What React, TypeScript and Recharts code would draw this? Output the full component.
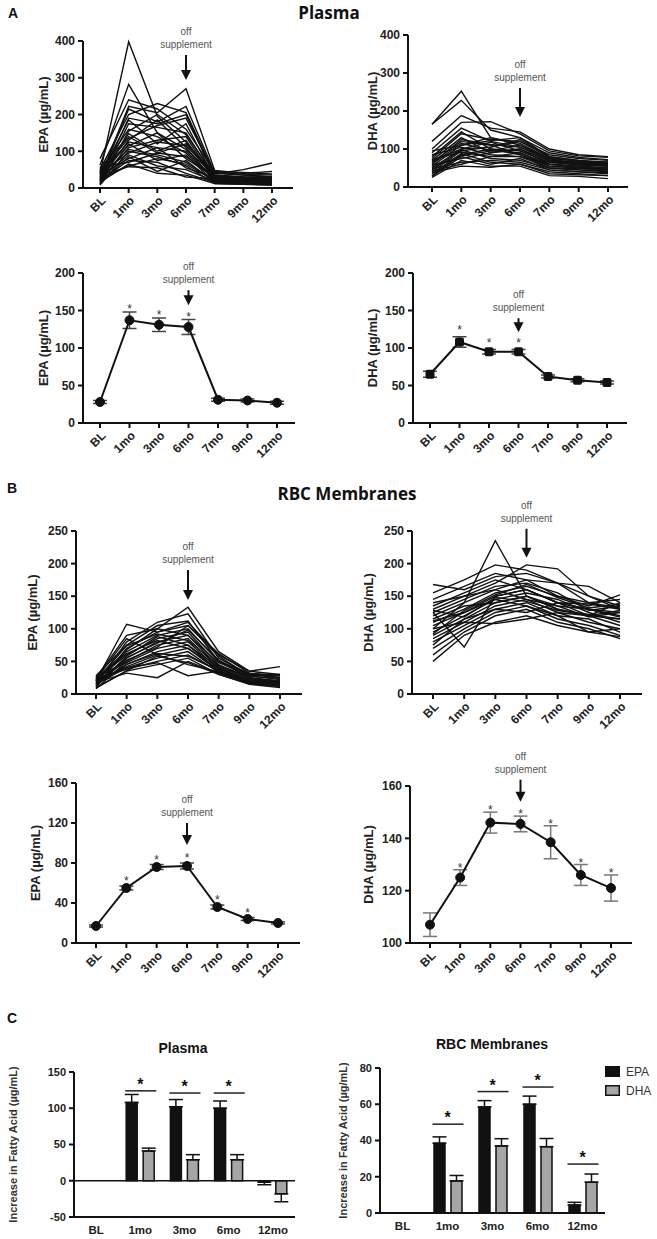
import React from "react";
import {
  LineChart,
  Line,
  ComposedChart,
  Bar,
  XAxis,
  YAxis,
  ErrorBar,
  ReferenceDot,
  ReferenceLine,
  Legend,
} from "recharts";

const TIMEPOINTS = ["BL", "1mo", "3mo", "6mo", "7mo", "9mo", "12mo"];
const CHANGE_POINTS = ["BL", "1mo", "3mo", "6mo", "12mo"];
const LEGEND_ORDER = ["EPA", "DHA"];

// individual subjects, BL..12mo (µg/mL)
const plasmaEpaSubjects = [
  [40, 398, 195, 125, 30, 25, 22],
  [62, 282, 150, 105, 35, 28, 25],
  [80, 240, 215, 160, 45, 42, 38],
  [30, 222, 205, 270, 48, 40, 45],
  [25, 215, 180, 222, 42, 35, 30],
  [50, 200, 230, 205, 38, 50, 68],
  [20, 190, 175, 200, 30, 28, 26],
  [35, 185, 120, 175, 25, 20, 18],
  [15, 175, 165, 150, 28, 25, 20],
  [45, 160, 140, 95, 22, 18, 15],
  [10, 155, 200, 145, 35, 30, 28],
  [28, 148, 100, 130, 20, 15, 12],
  [55, 140, 95, 120, 40, 35, 30],
  [22, 130, 185, 110, 18, 15, 12],
  [38, 125, 110, 100, 25, 22, 20],
  [12, 120, 75, 90, 15, 12, 10],
  [48, 115, 150, 80, 30, 25, 22],
  [18, 110, 130, 140, 22, 20, 18],
  [32, 105, 90, 70, 20, 18, 15],
  [8, 100, 85, 60, 12, 10, 8],
  [42, 95, 125, 115, 35, 30, 28],
  [26, 90, 60, 50, 18, 15, 12],
  [14, 85, 45, 75, 15, 12, 10],
  [36, 80, 110, 55, 28, 22, 18],
  [20, 75, 70, 40, 15, 12, 12],
  [58, 70, 95, 85, 32, 30, 25],
  [16, 65, 40, 35, 12, 10, 8],
  [24, 60, 80, 65, 20, 15, 15],
  [34, 58, 55, 30, 25, 20, 18],
  [44, 135, 170, 190, 40, 38, 35],
];

const plasmaDhaSubjects = [
  [165, 252, 130, 110, 75, 60, 55],
  [165, 228, 150, 130, 80, 70, 65],
  [120, 188, 155, 145, 100, 85, 80],
  [100, 170, 172, 140, 95, 82, 78],
  [90, 155, 120, 105, 70, 65, 60],
  [80, 145, 100, 95, 65, 60, 58],
  [75, 140, 125, 120, 85, 75, 70],
  [70, 130, 90, 100, 60, 55, 50],
  [65, 120, 110, 85, 55, 50, 45],
  [60, 115, 95, 110, 70, 62, 60],
  [55, 110, 130, 115, 75, 68, 66],
  [85, 105, 85, 80, 60, 55, 50],
  [50, 100, 118, 95, 65, 58, 55],
  [45, 98, 75, 70, 50, 45, 40],
  [40, 95, 105, 125, 80, 70, 62],
  [72, 92, 80, 90, 55, 50, 48],
  [35, 88, 65, 60, 40, 35, 30],
  [30, 85, 100, 85, 50, 45, 42],
  [28, 80, 60, 75, 45, 40, 35],
  [25, 70, 55, 55, 30, 28, 22],
  [58, 75, 90, 100, 68, 60, 55],
  [48, 65, 70, 65, 45, 40, 38],
  [38, 55, 52, 60, 35, 32, 30],
  [95, 110, 122, 130, 90, 78, 72],
  [62, 125, 112, 105, 72, 62, 58],
  [52, 82, 95, 90, 60, 52, 48],
  [42, 60, 80, 80, 50, 48, 45],
  [68, 100, 105, 120, 78, 66, 62],
];

const rbcEpaSubjects = [
  [20, 107, 95, 110, 60, 35, 30],
  [25, 90, 100, 133, 65, 35, 42],
  [15, 80, 110, 123, 55, 30, 28],
  [28, 75, 105, 112, 50, 32, 25],
  [10, 70, 95, 105, 58, 28, 22],
  [18, 65, 90, 100, 50, 25, 20],
  [22, 60, 85, 95, 45, 25, 18],
  [12, 55, 80, 90, 42, 22, 20],
  [8, 50, 75, 85, 40, 20, 15],
  [26, 48, 70, 80, 38, 22, 18],
  [14, 45, 65, 75, 35, 18, 14],
  [20, 42, 60, 70, 35, 20, 16],
  [16, 40, 55, 65, 33, 17, 12],
  [24, 38, 50, 60, 35, 18, 15],
  [10, 35, 45, 55, 30, 15, 10],
  [18, 32, 25, 50, 32, 16, 12],
  [22, 40, 48, 28, 35, 20, 14],
  [12, 58, 88, 75, 40, 28, 30],
  [20, 68, 100, 90, 48, 30, 25],
  [16, 52, 72, 105, 62, 32, 28],
  [26, 62, 82, 70, 38, 22, 20],
  [14, 46, 62, 58, 36, 20, 18],
  [9, 36, 58, 48, 30, 16, 12],
  [21, 74, 92, 82, 44, 24, 20],
  [17, 56, 78, 98, 52, 27, 24],
  [23, 85, 60, 45, 34, 19, 16],
];

const rbcDhaSubjects = [
  [168, 160, 180, 185, 170, 150, 135],
  [155, 175, 198, 190, 170, 165, 140],
  [125, 72, 150, 160, 140, 130, 125],
  [100, 140, 235, 150, 130, 120, 115],
  [130, 150, 170, 198, 192, 150, 130],
  [120, 140, 160, 175, 170, 140, 145],
  [110, 130, 155, 165, 150, 135, 152],
  [105, 125, 150, 160, 140, 130, 120],
  [95, 120, 145, 155, 145, 125, 110],
  [90, 115, 140, 150, 130, 120, 105],
  [85, 110, 135, 145, 125, 110, 100],
  [80, 105, 130, 140, 120, 115, 95],
  [70, 100, 125, 135, 115, 105, 90],
  [60, 95, 120, 130, 110, 100, 85],
  [50, 90, 110, 120, 105, 95, 88],
  [115, 135, 140, 150, 135, 118, 125],
  [125, 145, 165, 170, 155, 128, 135],
  [140, 150, 160, 145, 135, 130, 118],
  [100, 110, 108, 115, 125, 120, 140],
  [112, 125, 145, 135, 120, 95, 100],
  [135, 155, 175, 160, 140, 138, 130],
  [75, 115, 130, 125, 140, 120, 128],
  [128, 118, 148, 142, 128, 122, 115],
  [92, 128, 152, 168, 148, 132, 138],
  [145, 165, 185, 175, 150, 140, 132],
];

// group means ± SEM, * = significant vs BL
const plasmaEpaMean = [28, 137, 131, 128, 31, 30, 27];
const plasmaEpaSem = [2, 11, 9, 10, 2, 2, 2];
const plasmaEpaSig = [false, true, true, true, false, false, false];

const plasmaDhaMean = [65, 108, 95, 95, 62, 57, 54];
const plasmaDhaSem = [4, 7, 3, 3, 2, 2, 2];
const plasmaDhaSig = [false, true, true, true, false, false, false];

const rbcEpaMean = [17, 55, 76, 77, 36, 24, 20];
const rbcEpaSem = [1, 2, 2.5, 3, 2, 1.5, 1];
const rbcEpaSig = [false, true, true, true, true, true, false];

const rbcDhaMean = [107, 125, 146, 145.5, 138.5, 126, 121];
const rbcDhaSem = [4.5, 3, 4, 3, 6.3, 4, 5];
const rbcDhaSig = [false, true, true, true, true, true, true];

// increase from BL
const plasmaEpaChange = [null, 108, 102, 100, -2];
const plasmaEpaChangeErr = [null, 11, 10, 10, 3.5];
const plasmaDhaChange = [null, 41, 29, 29, -18];
const plasmaDhaChangeErr = [null, 4, 7, 7, 11];
const plasmaSigBar = [null, 124, 121, 121, null];

const rbcEpaChange = [null, 38.5, 58.5, 60, 4.4];
const rbcEpaChangeErr = [null, 3.5, 3.5, 4.5, 1.5];
const rbcDhaChange = [null, 17.7, 37, 36.6, 17];
const rbcDhaChangeErr = [null, 3, 4, 4.5, 4.5];
const rbcSigBar = [null, 49, 67, 69.5, 27];

const FONT = '"Liberation Sans", Arial, sans-serif';
const INK = "#111";
const TEXT = "#222";
const axisLine = { stroke: INK, strokeWidth: 2 };

const subjectRows = (subjects: number[][]) =>
  TIMEPOINTS.map((t, i) => {
    const row: Record<string, any> = { t };
    subjects.forEach((s, j) => {
      row[`s${j}`] = s[i];
    });
    return row;
  });

const meanRows = (mean: number[], sem: number[], sig: boolean[]) =>
  TIMEPOINTS.map((t, i) => ({
    t,
    mean: mean[i],
    sem: sem[i],
    star: sig[i] ? mean[i] + sem[i] : null,
  }));

const oneSided = (v: number | null, e: number | null) =>
  v == null || e == null ? null : v < 0 ? [e, 0] : [0, e];

const changeRows = (
  epa: (number | null)[],
  epaErr: (number | null)[],
  dha: (number | null)[],
  dhaErr: (number | null)[],
  sig: (number | null)[]
) =>
  CHANGE_POINTS.map((t, i) => ({
    t,
    epa: epa[i],
    dha: dha[i],
    epaErr: oneSided(epa[i], epaErr[i]),
    dhaErr: oneSided(dha[i], dhaErr[i]),
    sig: sig[i],
  }));

const SlantTick = ({ x, y, payload }: any) => (
  <g transform={`translate(${x},${y})`}>
    <text
      textAnchor="end"
      transform="rotate(-45)"
      dy={9}
      fontSize={12}
      fontWeight={700}
      fill={TEXT}
    >
      {payload.value}
    </text>
  </g>
);

// "off supplement" note with a down arrow ending at (cx, cy)
const OffSupplement = ({ cx, cy, len }: { cx: number; cy: number; len: number }) => {
  const top = cy - len;
  return (
    <g>
      <text x={cx} y={top - 20} textAnchor="middle" fontSize={10} fill="#555">
        off
      </text>
      <text x={cx} y={top - 7} textAnchor="middle" fontSize={10} fill="#555">
        supplement
      </text>
      <line x1={cx} y1={top} x2={cx} y2={cy - 8} stroke={INK} strokeWidth={2} />
      <polygon points={`${cx - 5},${cy - 10} ${cx + 5},${cy - 10} ${cx},${cy}`} fill={INK} />
    </g>
  );
};

const YW = 60;
const MT = 60;
const MR = 12;
const XH = 45;

function TimeYAxis({ box, domain, ticks, label }: any) {
  return (
    <YAxis
      width={YW}
      domain={domain}
      ticks={ticks}
      interval={0}
      tickSize={5}
      tickMargin={3}
      axisLine={axisLine}
      tickLine={axisLine}
      tick={{ fontSize: 12, fontWeight: 700, fill: TEXT }}
      label={{
        value: label,
        angle: -90,
        position: "insideLeft",
        offset: box.labelX - (box.x0 - YW),
        fontSize: 13,
        fontWeight: 700,
        fill: TEXT,
        style: { textAnchor: "middle" },
      }}
    />
  );
}

function SpaghettiPanel({ subjects, box, domain, ticks, label, arrowY, arrowLen }: any) {
  const rows = subjectRows(subjects);
  const width = box.x1 - box.x0 + YW + MR;
  const height = box.bottom - box.top + MT + XH;
  return (
    <div style={{ position: "absolute", left: box.x0 - YW, top: box.top - MT }}>
      <LineChart width={width} height={height} data={rows} margin={{ top: MT, right: MR, left: 0, bottom: 0 }}>
        <XAxis
          dataKey="t"
          scale="point"
          padding={{ left: box.padL, right: box.padR }}
          height={XH}
          interval={0}
          tickSize={5}
          axisLine={axisLine}
          tickLine={axisLine}
          tick={<SlantTick />}
        />
        {TimeYAxis({ box, domain, ticks, label })}
        {subjects.map((_: number[], j: number) => (
          <Line
            key={j}
            dataKey={`s${j}`}
            stroke={INK}
            strokeWidth={1.4}
            dot={false}
            activeDot={false}
            isAnimationActive={false}
          />
        ))}
        <ReferenceDot
          x="6mo"
          y={arrowY}
          r={1}
          shape={(p: any) => <OffSupplement cx={p.cx} cy={p.cy} len={arrowLen} />}
        />
      </LineChart>
    </div>
  );
}

function MeanPanel({ rows, box, domain, ticks, label, arrowY, arrowLen, starShift, errColor, square }: any) {
  const width = box.x1 - box.x0 + YW + MR;
  const height = box.bottom - box.top + MT + XH;
  const dot = square
    ? (p: any) => (
        <rect key={p.index} x={p.cx - 4.5} y={p.cy - 4.5} width={9} height={9} rx={2} fill={INK} />
      )
    : { r: 4.5, fill: INK, stroke: INK, strokeWidth: 1 };
  return (
    <div style={{ position: "absolute", left: box.x0 - YW, top: box.top - MT }}>
      <LineChart width={width} height={height} data={rows} margin={{ top: MT, right: MR, left: 0, bottom: 0 }}>
        <XAxis
          dataKey="t"
          scale="point"
          padding={{ left: box.padL, right: box.padR }}
          height={XH}
          interval={0}
          tickSize={5}
          axisLine={axisLine}
          tickLine={axisLine}
          tick={<SlantTick />}
        />
        {TimeYAxis({ box, domain, ticks, label })}
        <Line
          dataKey="mean"
          stroke={INK}
          strokeWidth={2}
          dot={dot}
          activeDot={false}
          isAnimationActive={false}
        >
          <ErrorBar dataKey="sem" width={7} stroke={errColor} strokeWidth={1.5} />
        </Line>
        <Line
          dataKey="star"
          stroke="none"
          legendType="none"
          activeDot={false}
          isAnimationActive={false}
          dot={(p: any) =>
            p.cy == null || p.value == null ? (
              <g key={p.index} />
            ) : (
              <text key={p.index} x={p.cx} y={p.cy + starShift} textAnchor="middle" fontSize={12} fill="#333">
                *
              </text>
            )
          }
        />
        <ReferenceDot
          x="6mo"
          y={arrowY}
          r={1}
          shape={(p: any) => <OffSupplement cx={p.cx} cy={p.cy} len={arrowLen} />}
        />
      </LineChart>
    </div>
  );
}

const SigMark = (p: any) => {
  if (p.cy == null || p.value == null) return <g key={p.index} />;
  return (
    <g key={p.index}>
      <line x1={p.cx - 15} x2={p.cx + 16} y1={p.cy} y2={p.cy} stroke="#222" strokeWidth={1.5} />
      <text x={p.cx} y={p.cy - 1} textAnchor="middle" fontSize={16} fontWeight={700} fill={INK}>
        *
      </text>
    </g>
  );
};

const LegendRows = ({ payload }: any) => {
  const items = (payload || [])
    .filter((e: any) => LEGEND_ORDER.includes(e.value))
    .sort((a: any, b: any) => LEGEND_ORDER.indexOf(a.value) - LEGEND_ORDER.indexOf(b.value));
  return (
    <div style={{ fontFamily: FONT, fontSize: 12, color: "#333" }}>
      {items.map((e: any) => (
        <div key={e.value} style={{ display: "flex", alignItems: "center", height: 19 }}>
          <svg width={15} height={11} style={{ marginRight: 6 }}>
            <rect x={0.75} y={0.75} width={13.5} height={9.5} fill={e.color} stroke={INK} strokeWidth={1.5} />
          </svg>
          {e.value}
        </div>
      ))}
    </div>
  );
};

function ChangePanel({ rows, box, domain, ticks, withLegend }: any) {
  const yw = 70;
  const mt = 20;
  const xh = 22;
  const mr = withLegend ? 60 : 10;
  const width = box.x1 - box.x0 + yw + mr;
  const height = box.bottom - box.top + mt + xh;
  return (
    <div style={{ position: "absolute", left: box.x0 - yw, top: box.top - mt }}>
      <ComposedChart
        width={width}
        height={height}
        data={rows}
        margin={{ top: mt, right: mr, left: 0, bottom: 0 }}
        barSize={11}
        barGap={6}
      >
        <XAxis
          dataKey="t"
          interval={0}
          height={xh}
          tickLine={false}
          tickSize={0}
          axisLine={axisLine}
          tickMargin={9}
          tick={{ fontSize: 11.5, fontWeight: 700, fill: TEXT }}
        />
        <YAxis
          width={yw}
          domain={domain}
          ticks={ticks}
          interval={0}
          tickSize={5}
          tickMargin={3}
          axisLine={axisLine}
          tickLine={axisLine}
          tick={{ fontSize: 11, fontWeight: 700, fill: TEXT }}
          label={{
            value: "Increase in Fatty Acid (µg/mL)",
            angle: -90,
            position: "insideLeft",
            offset: box.labelX - (box.x0 - yw),
            fontSize: 11,
            fontWeight: 700,
            fill: "#333",
            style: { textAnchor: "middle" },
          }}
        />
        <ReferenceLine y={0} stroke={INK} strokeWidth={1.5} />
        <Bar dataKey="epa" name="EPA" fill={INK} stroke={INK} strokeWidth={1.5} isAnimationActive={false}>
          <ErrorBar dataKey="epaErr" width={7} stroke={INK} strokeWidth={1.5} />
        </Bar>
        <Bar dataKey="dha" name="DHA" fill="#a6a6a6" stroke={INK} strokeWidth={1.5} isAnimationActive={false}>
          <ErrorBar dataKey="dhaErr" width={7} stroke={INK} strokeWidth={1.5} />
        </Bar>
        <Line
          dataKey="sig"
          stroke="none"
          legendType="none"
          activeDot={false}
          isAnimationActive={false}
          dot={SigMark}
        />
        {withLegend && (
          <Legend
            layout="vertical"
            align="center"
            verticalAlign="middle"
            content={<LegendRows />}
            wrapperStyle={{ left: box.x1 - (box.x0 - yw), top: 14, width: 60, height: 40 }}
          />
        )}
      </ComposedChart>
    </div>
  );
}

const Text = ({ x, y, w, size, bold = true, family = FONT, align = "left", children }: any) => (
  <div
    style={{
      position: "absolute",
      left: x,
      top: y,
      width: w,
      fontSize: size,
      lineHeight: 1,
      fontWeight: bold ? 700 : 400,
      fontFamily: family,
      textAlign: align,
      color: INK,
      whiteSpace: "nowrap",
    }}
  >
    {children}
  </div>
);

export default function App() {
  return (
    <div
      style={{
        position: "absolute",
        left: 0,
        top: 0,
        width: 657,
        height: 1239,
        background: "#fff",
        fontFamily: FONT,
        overflow: "hidden",
      }}
    >
      <Text x={8} y={6} size={14}>A</Text>
      <Text x={179} y={4} w={300} size={17} family='"Open Sans", sans-serif' align="center">
        Plasma
      </Text>
      <Text x={7} y={481} size={14}>B</Text>
      <Text x={197} y={485} w={300} size={17} family='"Open Sans", sans-serif' align="center">
        RBC Membranes
      </Text>
      <Text x={7} y={1011} size={14}>C</Text>
      <Text x={83} y={1041} w={200} size={14} align="center">Plasma</Text>
      <Text x={392} y={1037} w={200} size={14} align="center">RBC Membranes</Text>

      <SpaghettiPanel
        subjects={plasmaEpaSubjects}
        box={{ x0: 83, x1: 293, top: 41, bottom: 188, padL: 17, padR: 21, labelX: 43 }}
        domain={[0, 400]}
        ticks={[0, 100, 200, 300, 400]}
        label="EPA (µg/mL)"
        arrowY={294}
        arrowLen={25}
      />
      <SpaghettiPanel
        subjects={plasmaDhaSubjects}
        box={{ x0: 408, x1: 628, top: 35, bottom: 187, padL: 24, padR: 20, labelX: 372 }}
        domain={[0, 400]}
        ticks={[0, 100, 200, 300, 400]}
        label="DHA (µg/mL)"
        arrowY={184}
        arrowLen={29}
      />
      <MeanPanel
        rows={meanRows(plasmaEpaMean, plasmaEpaSem, plasmaEpaSig)}
        box={{ x0: 83, x1: 295, top: 273, bottom: 423, padL: 17, padR: 18, labelX: 43 }}
        domain={[0, 200]}
        ticks={[0, 50, 100, 150, 200]}
        label="EPA (µg/mL)"
        arrowY={157}
        arrowLen={15}
        starShift={1}
        errColor="#444"
      />
      <MeanPanel
        rows={meanRows(plasmaDhaMean, plasmaDhaSem, plasmaDhaSig)}
        box={{ x0: 413, x1: 627, top: 273, bottom: 423, padL: 17, padR: 20, labelX: 372 }}
        domain={[0, 200]}
        ticks={[0, 50, 100, 150, 200]}
        label="DHA (µg/mL)"
        arrowY={121}
        arrowLen={14}
        starShift={-3}
        errColor="#444"
        square
      />
      <SpaghettiPanel
        subjects={rbcEpaSubjects}
        box={{ x0: 76, x1: 302, top: 531, bottom: 694, padL: 20, padR: 22, labelX: 32 }}
        domain={[0, 250]}
        ticks={[0, 50, 100, 150, 200, 250]}
        label="EPA (µg/mL)"
        arrowY={144}
        arrowLen={30}
      />
      <SpaghettiPanel
        subjects={rbcDhaSubjects}
        box={{ x0: 412, x1: 642, top: 531, bottom: 694, padL: 21, padR: 22, labelX: 368 }}
        domain={[0, 250]}
        ticks={[0, 50, 100, 150, 200, 250]}
        label="DHA (µg/mL)"
        arrowY={209}
        arrowLen={29}
      />
      <MeanPanel
        rows={meanRows(rbcEpaMean, rbcEpaSem, rbcEpaSig)}
        box={{ x0: 76, x1: 300, top: 783, bottom: 943, padL: 20, padR: 22, labelX: 35 }}
        domain={[0, 160]}
        ticks={[0, 40, 80, 120, 160]}
        label="EPA (µg/mL)"
        arrowY={98}
        arrowLen={22}
        starShift={-1}
        errColor="#444"
      />
      <MeanPanel
        rows={meanRows(rbcDhaMean, rbcDhaSem, rbcDhaSig)}
        box={{ x0: 410, x1: 632, top: 786, bottom: 943, padL: 20, padR: 21, labelX: 368 }}
        domain={[100, 160]}
        ticks={[100, 120, 140, 160]}
        label="DHA (µg/mL)"
        arrowY={154}
        arrowLen={22}
        starShift={2}
        errColor="#777"
      />
      <ChangePanel
        rows={changeRows(plasmaEpaChange, plasmaEpaChangeErr, plasmaDhaChange, plasmaDhaChangeErr, plasmaSigBar)}
        box={{ x0: 74, x1: 295, top: 1072, bottom: 1217, labelX: 13 }}
        domain={[-50, 150]}
        ticks={[-50, 0, 50, 100, 150]}
      />
      <ChangePanel
        rows={changeRows(rbcEpaChange, rbcEpaChangeErr, rbcDhaChange, rbcDhaChangeErr, rbcSigBar)}
        box={{ x0: 380, x1: 605, top: 1068, bottom: 1213, labelX: 343 }}
        domain={[0, 80]}
        ticks={[0, 20, 40, 60, 80]}
        withLegend
      />
    </div>
  );
}
